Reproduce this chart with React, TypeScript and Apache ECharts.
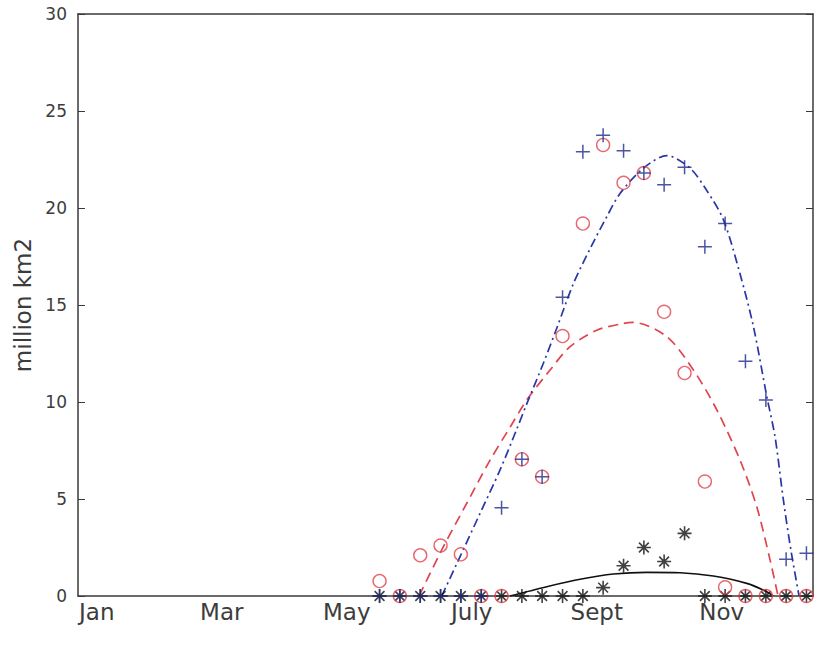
import React, { useEffect, useRef } from "react";
import * as echarts from "echarts";

// x positions in months (Jan = 1)
const dates = [5.525, 5.85, 6.176, 6.501, 6.826, 7.152, 7.477, 7.802, 8.126, 8.453, 8.778, 9.102, 9.429, 9.754, 10.078, 10.405, 10.73, 11.054, 11.379, 11.706, 12.03, 12.355];
const bluePlus = [0, 0, 0, 0, 0, 0, 4.55, 7.05, 6.15, 15.4, 22.9, 23.75, 22.95, 21.8, 21.2, 22.1, 18.0, 19.2, 12.1, 10.1, 1.9, 2.2];
const redCircle = [0.77, 0, 2.1, 2.6, 2.15, 0, 0, 7.05, 6.15, 13.4, 19.2, 23.25, 21.3, 21.8, 14.65, 11.5, 5.9, 0.45, 0, 0, 0, 0];
const blackStar = [0, 0, 0, 0, 0, 0, 0, 0, 0, 0, 0, 0.43, 1.56, 2.5, 1.78, 3.23, 0, 0, 0, 0, 0, 0];

const redFitX = [6.157, 6.546, 6.92, 7.293, 7.613, 7.88, 8.253, 8.573, 9.0, 9.426, 9.586, 10.12, 10.546, 10.92, 11.293, 11.56, 11.773, 11.9];
const redFitY = [0, 2.54, 4.78, 7.0, 8.7, 10.1, 11.65, 12.85, 13.7, 14.05, 14.1, 13.37, 11.65, 9.6, 7.0, 4.6, 1.86, 0];
const blueFitX = [6.52, 6.813, 7.133, 7.453, 7.72, 7.88, 8.146, 8.36, 8.626, 8.893, 9.16, 9.373, 9.746, 10.12, 10.493, 10.76, 11.026, 11.293, 11.506, 11.72, 11.853, 11.986, 12.11, 12.237];
const blueFitY = [0, 2.03, 4.26, 6.5, 8.6, 9.9, 12.0, 13.8, 16.1, 17.9, 19.55, 20.75, 22.05, 22.7, 22.05, 20.9, 19.4, 16.6, 13.9, 10.3, 8.2, 4.95, 2.3, 0];
const blackFitX = [7.613, 8.2, 8.733, 9.266, 9.8, 10.333, 10.866, 11.4, 11.72, 11.82];
const blackFitY = [0, 0.48, 0.86, 1.13, 1.22, 1.2, 1.03, 0.65, 0.22, 0];

const monthTicks = [1, 3, 5, 7, 9, 11];
const monthLabels = ["Jan", "Mar", "May", "July", "Sept", "Nov"];
const yTicks = [0, 5, 10, 15, 20, 25, 30];

const FONT = "DejaVu Sans";
const AXIS_COLOR = "#3a3a3a";
const TEXT_COLOR = "#3c3c3c";
const BLUE = "#1f2a8c";
const RED = "#e0444e";
const BLACK = "#111111";

const PLUS = "path://M0,6L12,6M6,0L6,12";
const STAR = "path://M6,0L6,12M0,6L12,6M1.8,1.8L10.2,10.2M10.2,1.8L1.8,10.2";

const zip = (xs: number[], ys: number[]) => xs.map((x, i) => [x, ys[i]]);

export default function App() {
  const ref = useRef<HTMLDivElement>(null);
  useEffect(() => {
    if (!ref.current) return;
    const chart = echarts.init(ref.current, undefined, { renderer: "svg" });
    const xMin = 0.7;
    const xMax = 12.46;
    chart.setOption({
      animation: false,
      backgroundColor: "#ffffff",
      grid: { left: 78, right: 4, top: 14, bottom: 49, containLabel: false },
      xAxis: [
        {
          type: "value",
          position: "bottom",
          min: xMin,
          max: xMax,
          axisLine: { show: true, lineStyle: { color: AXIS_COLOR, width: 1.5 } },
          axisTick: { show: false },
          splitLine: { show: false },
          axisLabel: {
            customValues: monthTicks,
            formatter: (v: number) => {
              const idx = monthTicks.findIndex((m) => Math.abs(m - v) < 1e-6);
              return idx >= 0 ? monthLabels[idx] : "";
            },
            fontFamily: FONT,
            fontSize: 23,
            color: TEXT_COLOR,
            margin: 4,
          },
        },
        {
          type: "value",
          position: "top",
          min: xMin,
          max: xMax,
          axisLine: { show: true, onZero: false, lineStyle: { color: AXIS_COLOR, width: 1.5 } },
          axisTick: { show: false },
          axisLabel: { show: false },
          splitLine: { show: false },
        },
      ],
      yAxis: [
        {
          type: "value",
          position: "left",
          min: 0,
          max: 30,
          interval: 5,
          name: "million km2",
          nameLocation: "middle",
          nameRotate: 90,
          nameGap: 41,
          nameTextStyle: { fontFamily: FONT, fontSize: 23, color: TEXT_COLOR },
          axisLine: { show: true, lineStyle: { color: AXIS_COLOR, width: 1.5 } },
          axisTick: { show: true, inside: true, length: 7, lineStyle: { color: AXIS_COLOR } },
          splitLine: { show: false },
          axisLabel: {
            customValues: yTicks,
            fontFamily: FONT,
            fontSize: 17,
            color: TEXT_COLOR,
            margin: 11,
          },
        },
        {
          type: "value",
          position: "right",
          min: 0,
          max: 30,
          interval: 5,
          axisLine: { show: true, lineStyle: { color: AXIS_COLOR, width: 1.5 } },
          axisTick: { show: true, inside: true, length: 7, lineStyle: { color: AXIS_COLOR } },
          axisLabel: { show: false },
          splitLine: { show: false },
        },
      ],
      series: [
        {
          type: "line",
          data: zip(blackFitX, blackFitY),
          showSymbol: false,
          smooth: 0.3,
          lineStyle: { color: BLACK, width: 1.6, type: "solid" },
          z: 2,
        },
        {
          type: "line",
          data: zip(redFitX, redFitY),
          showSymbol: false,
          smooth: 0.3,
          lineStyle: { color: RED, width: 1.7, type: [10, 6] },
          z: 2,
        },
        {
          type: "line",
          data: zip(blueFitX, blueFitY),
          showSymbol: false,
          smooth: 0.3,
          lineStyle: { color: "#2a36a8", width: 1.7, type: [9, 4, 2, 4] },
          z: 2,
        },
        {
          type: "scatter",
          data: zip(dates, blackStar),
          symbol: STAR,
          symbolSize: 14,
          itemStyle: { color: "rgba(0,0,0,0)", borderColor: BLACK, borderWidth: 1.6 },
          z: 3,
        },
        {
          type: "scatter",
          data: zip(dates, redCircle),
          symbol: "circle",
          symbolSize: 13,
          itemStyle: { color: "rgba(0,0,0,0)", borderColor: RED, borderWidth: 1.4 },
          z: 4,
        },
        {
          type: "scatter",
          data: zip(dates, bluePlus),
          symbol: PLUS,
          symbolSize: 14,
          itemStyle: { color: "rgba(0,0,0,0)", borderColor: BLUE, borderWidth: 1.5 },
          z: 5,
        },
      ],
    });
    return () => chart.dispose();
  }, []);
  return (
    <div
      ref={ref}
      style={{ position: "fixed", left: 0, top: 0, width: 817, height: 645, background: "#fff" }}
    />
  );
}
